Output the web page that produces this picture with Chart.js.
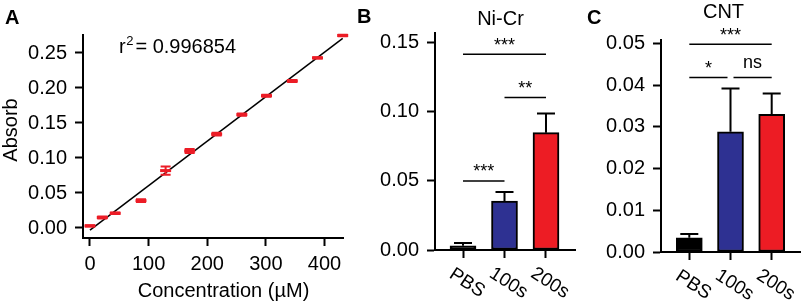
<!DOCTYPE html>
<html><head><meta charset="utf-8">
<script src="https://cdn.jsdelivr.net/npm/chart.js@4"></script>
<style>
html,body{margin:0;padding:0;background:#fff;width:803px;height:305px;overflow:hidden}
canvas{position:absolute;left:0;top:0;pointer-events:none}
</style></head><body>
<canvas id="cA" width="803" height="305"></canvas>
<canvas id="cB" width="803" height="305"></canvas>
<canvas id="cC" width="803" height="305"></canvas>
<script>
// ---------- data ----------
const concX     = [0, 21, 43, 87, 129, 170, 216, 259, 301, 345, 388, 431];
const absorbY   = [0.003, 0.015, 0.021, 0.039, 0.082, 0.110, 0.134, 0.162, 0.189, 0.210, 0.243, 0.275];
const absorbErr = [0.001, 0.0015, 0.001, 0.002, 0.006, 0.003, 0.002, 0.0015, 0.0015, 0.0015, 0.001, 0.001];
const fitX = [0, 431];
const fitY = [-0.003, 0.271];
const rSquared = '0.996854';
const xTicksA = [0, 100, 200, 300, 400];
const yTicksA = [0, 0.05, 0.10, 0.15, 0.20, 0.25];

const groups   = ['PBS', '100s', '200s'];
const niCrMean = [0.003, 0.0355, 0.085];
const niCrErr  = [0.002, 0.0065, 0.0138];
const cntMean  = [0.0034, 0.0288, 0.0330];
const cntErr   = [0.0009, 0.0104, 0.0050];
const yTicksB  = [0, 0.05, 0.10, 0.15];
const yTicksC  = [0, 0.01, 0.02, 0.03, 0.04, 0.05];
// [from group, to group, level, label]
const niCrSig = [[0, 2, 0.1418, '***'], [1, 2, 0.1104, '**'], [0, 1, 0.0500, '***']];
const cntSig  = [[0, 2, 0.0498, '***'], [0, 1, 0.0418, '*'], [1, 2, 0.0418, 'ns']];

// ---------- style ----------
const FONT = "'Liberation Sans', Arial, Helvetica, sans-serif";
const RED = '#ec1c26';
const barColors = ['#000000', '#2e3192', '#ed1c24'];
Chart.defaults.font.family = FONT;
Chart.defaults.color = '#000';

function axisStyle() {
  return {
    grid: {display: true, drawOnChartArea: false, drawTicks: true, tickLength: 8, tickWidth: 2, tickColor: '#000', color: '#000', offset: false},
    border: {display: true, color: '#000', width: 2}
  };
}
function fixTicks(values) { return (scale) => { scale.ticks = values.map(v => ({value: v})); }; }
function baseOpts(pad, xs, ys) {
  return {
    responsive: false, animation: false, events: [], devicePixelRatio: 1,
    layout: {padding: pad},
    plugins: {legend: {display: false}, tooltip: {enabled: false}, title: {display: false}},
    scales: {x: xs, y: ys}
  };
}
function drawText(ctx, s, x, y, o = {}) {
  ctx.save();
  ctx.font = `${o.weight || 'normal'} ${o.size || 20}px ${FONT}`;
  ctx.fillStyle = '#000';
  ctx.textAlign = o.align || 'left';
  ctx.textBaseline = o.base || 'alphabetic';
  ctx.translate(x, y);
  if (o.rot) ctx.rotate(o.rot);
  ctx.fillText(s, 0, 0);
  ctx.restore();
}
function yTickOpts(w, ticks) {
  return {
    type: 'linear', afterBuildTicks: fixTicks(ticks), afterFit: s => { s.width = w; },
    ticks: {font: {size: 20}, color: '#000', padding: 8, callback: v => v.toFixed(2)},
    ...axisStyle()
  };
}

// ---------- plugins ----------
const errA = {
  id: 'errA',
  afterDatasetsDraw(chart) {
    const {ctx, scales: {x, y}} = chart;
    ctx.save(); ctx.strokeStyle = RED; ctx.lineWidth = 2;
    concX.forEach((cx, i) => {
      const px = x.getPixelForValue(cx);
      const t = y.getPixelForValue(absorbY[i] + absorbErr[i]);
      const b = y.getPixelForValue(absorbY[i] - absorbErr[i]);
      ctx.beginPath();
      ctx.moveTo(px, t); ctx.lineTo(px, b);
      ctx.moveTo(px - 5, t); ctx.lineTo(px + 5, t);
      ctx.moveTo(px - 5, b); ctx.lineTo(px + 5, b);
      ctx.stroke();
    });
    ctx.restore();
  }
};
function errBars(means, errs) {
  return {
    id: 'errbars',
    afterDatasetsDraw(chart) {
      const {ctx, scales: {x, y}} = chart;
      ctx.save(); ctx.strokeStyle = '#000'; ctx.lineWidth = 2;
      means.forEach((m, i) => {
        const px = x.getPixelForValue(i);
        const pm = y.getPixelForValue(m), pt = y.getPixelForValue(m + errs[i]);
        ctx.beginPath();
        ctx.moveTo(px, pm); ctx.lineTo(px, pt);
        ctx.moveTo(px - 9, pt); ctx.lineTo(px + 9, pt);
        ctx.stroke();
      });
      ctx.restore();
    }
  };
}
function sigPlugin(brackets) {
  return {
    id: 'sig',
    afterDatasetsDraw(chart) {
      const {ctx, scales: {x, y}} = chart;
      ctx.save();
      brackets.forEach(br => {
        const [a, b, v, label] = br;
        const shares = idx => brackets.some(o => o !== br && o[2] === v && (o[0] === idx || o[1] === idx));
        let x1 = x.getPixelForValue(a), x2 = x.getPixelForValue(b);
        if (shares(a)) x1 += 3;
        if (shares(b)) x2 -= 3;
        const ly = y.getPixelForValue(v);
        ctx.strokeStyle = '#000'; ctx.lineWidth = 1.5;
        ctx.beginPath(); ctx.moveTo(x1, ly); ctx.lineTo(x2, ly); ctx.stroke();
        ctx.font = `18px ${FONT}`;
        ctx.fillStyle = '#000'; ctx.textAlign = 'center'; ctx.textBaseline = 'alphabetic';
        const m = ctx.measureText(label);
        ctx.fillText(label, (x1 + x2) / 2, ly - 9.5 - m.actualBoundingBoxDescent);
      });
      ctx.restore();
    }
  };
}
const catLabels = {
  id: 'cat',
  afterDraw(chart) {
    const {ctx, scales: {x}, chartArea} = chart;
    groups.forEach((g, i) => {
      drawText(ctx, g, x.getPixelForValue(i) + 4, chartArea.bottom + 33,
        {size: 19, align: 'center', base: 'middle', rot: 33 * Math.PI / 180});
    });
  }
};

// ---------- Panel A ----------
new Chart(document.getElementById('cA'), {
  type: 'scatter',
  data: {datasets: [
    {data: concX.map((x, i) => ({x, y: absorbY[i]})), pointStyle: 'line', pointRadius: 5.5,
     pointBorderWidth: 3, pointBorderColor: RED, borderColor: RED, clip: false},
    {type: 'line', data: fitX.map((x, i) => ({x, y: fitY[i]})), showLine: true, borderColor: '#000',
     borderWidth: 1.5, pointRadius: 0, clip: false}
  ]},
  options: baseOpts({left: 0, top: 35, right: 460, bottom: 0},
    {type: 'linear', min: -11.9, max: 431.5, afterBuildTicks: fixTicks(xTicksA), afterFit: s => { s.height = 67; },
     ticks: {font: {size: 20}, color: '#000', padding: 6, maxRotation: 0, autoSkip: false}, ...axisStyle()},
    Object.assign(yTickOpts(83, yTicksA), {min: -0.01429, max: 0.2757})),
  plugins: [errA, {
    id: 'textA',
    afterDraw(chart) {
      const ctx = chart.ctx;
      drawText(ctx, 'A', 5, 24, {weight: 'bold'});
      drawText(ctx, 'Absorb', 11, 130, {align: 'center', base: 'middle', rot: -Math.PI / 2});
      drawText(ctx, 'Concentration (µM)', 223.5, 291, {align: 'center', base: 'middle'});
      ctx.save(); ctx.font = `20px ${FONT}`;
      let xx = 119;
      drawText(ctx, 'r', xx, 53); xx += ctx.measureText('r').width + 0.5;
      ctx.font = `13px ${FONT}`;
      drawText(ctx, '2', xx, 45, {size: 13}); xx += ctx.measureText('2').width + 2;
      ctx.restore();
      drawText(ctx, '= ' + rSquared, xx, 53);
    }
  }]
});

// ---------- Panel B ----------
new Chart(document.getElementById('cB'), {
  type: 'bar',
  data: {datasets: [{data: groups.map((g, i) => ({x: i, y: niCrMean[i]})), backgroundColor: barColors,
    borderColor: '#000', borderWidth: 2, borderSkipped: false, barThickness: 26}]},
  options: baseOpts({left: 0, top: 33, right: 228, bottom: 0},
    {type: 'linear', min: -0.675, max: 2.699, offset: false, afterBuildTicks: fixTicks([0, 1, 2]),
     afterFit: s => { s.height = 55; }, ticks: {display: false}, ...axisStyle()},
    Object.assign(yTickOpts(435, yTicksB), {min: 0, max: 0.1572})),
  plugins: [errBars(niCrMean, niCrErr), sigPlugin(niCrSig), catLabels, {
    id: 'textB',
    afterDraw(chart) {
      drawText(chart.ctx, 'B', 357, 23, {weight: 'bold'});
      drawText(chart.ctx, 'Ni-Cr', 500.5, 25, {align: 'center'});
    }
  }]
});

// ---------- Panel C ----------
new Chart(document.getElementById('cC'), {
  type: 'bar',
  data: {datasets: [{data: groups.map((g, i) => ({x: i, y: cntMean[i]})), backgroundColor: barColors,
    borderColor: '#000', borderWidth: 2, borderSkipped: false, barThickness: 26}]},
  options: baseOpts({left: 0, top: 40, right: 3, bottom: 0},
    {type: 'linear', min: -0.687, max: 2.687, offset: false, afterBuildTicks: fixTicks([0, 1, 2]),
     afterFit: s => { s.height = 53; }, ticks: {display: false}, ...axisStyle()},
    Object.assign(yTickOpts(661, yTicksC), {min: 0, max: 0.0508})),
  plugins: [errBars(cntMean, cntErr), sigPlugin(cntSig), catLabels, {
    id: 'textC',
    afterDraw(chart) {
      drawText(chart.ctx, 'C', 587, 24, {weight: 'bold'});
      drawText(chart.ctx, 'CNT', 723.5, 17.5, {align: 'center'});
    }
  }]
});
</script>
</body></html>
